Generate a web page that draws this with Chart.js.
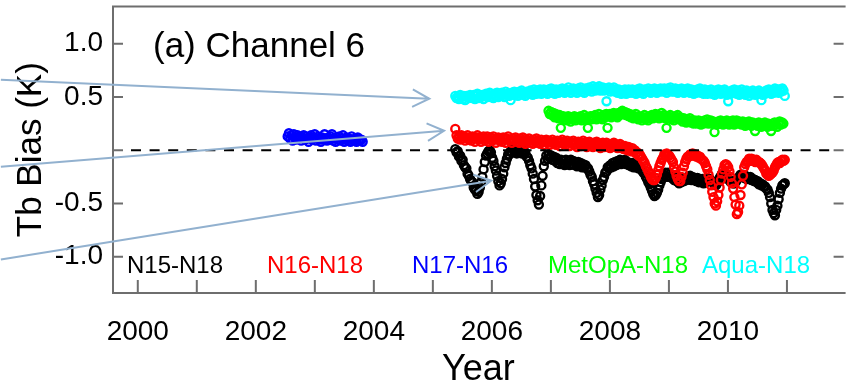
<!DOCTYPE html>
<html>
<head>
<meta charset="utf-8">
<title>Tb Bias – Channel 6</title>
<script src="https://cdn.jsdelivr.net/npm/chart.js@4.4.1/dist/chart.umd.min.js"></script>
<style>
  html, body { margin: 0; padding: 0; background: #fff; overflow: hidden; }
  canvas { display: block; }
</style>
</head>
<body>
<canvas id="chart" width="850" height="385"></canvas>
<script>
// Satellite-pair names, drawn as the in-plot key
const seriesNames = ['N15-N18', 'N16-N18', 'N17-N16', 'MetOpA-N18', 'Aqua-N18'];

// Weekly-ish sampling of each bias series (years); each row below spans a quarter year
const stepYears = 1 / 48;
const startN15 = 2005.38;
const startN16 = 2005.38;
const startAqua = 2005.38;
const startMetOpA = 2006.96;
const startN17 = 2002.54;

// Tb bias (K), N15 - N18
const biasN15 = [
  0.01, -0.02, -0.01, -0.06, -0.05, -0.10, -0.09, -0.14, -0.16, -0.17, -0.22, -0.24,
  -0.27, -0.29, -0.30, -0.35, -0.37, -0.38, -0.41, -0.39, -0.35, -0.30, -0.25, -0.18,
  -0.11, -0.05, -0.03, -0.01, 0.00, -0.02, -0.07, -0.10, -0.15, -0.19, -0.24, -0.29,
  -0.33, -0.31, -0.27, -0.22, -0.16, -0.12, -0.08, -0.04, -0.04, -0.01, -0.02, 0.01,
  -0.02, 0.01, -0.03, 0.00, -0.02, 0.01, -0.03, 0.00, -0.03, -0.02, -0.06, -0.07,
  -0.10, -0.14, -0.17, -0.22, -0.27, -0.34, -0.42, -0.47, -0.51, -0.43, -0.33, -0.24,
  -0.15, -0.10, -0.05, -0.08, -0.04, -0.07, -0.05, -0.09, -0.06, -0.10, -0.07, -0.12,
  -0.09, -0.13, -0.09, -0.13, -0.10, -0.14, -0.09, -0.12, -0.10, -0.14, -0.09, -0.13,
  -0.10, -0.14, -0.11, -0.15, -0.11, -0.14, -0.12, -0.16, -0.13, -0.16, -0.14, -0.17,
  -0.17, -0.20, -0.23, -0.25, -0.29, -0.32, -0.36, -0.40, -0.44, -0.42, -0.37, -0.33,
  -0.28, -0.25, -0.21, -0.20, -0.16, -0.17, -0.14, -0.16, -0.12, -0.15, -0.11, -0.14,
  -0.10, -0.13, -0.09, -0.13, -0.10, -0.12, -0.09, -0.13, -0.11, -0.14, -0.12, -0.15,
  -0.12, -0.16, -0.13, -0.16, -0.14, -0.17, -0.15, -0.18, -0.19, -0.21, -0.22, -0.25,
  -0.27, -0.30, -0.32, -0.35, -0.38, -0.41, -0.43, -0.42, -0.40, -0.37, -0.33, -0.30,
  -0.27, -0.25, -0.23, -0.21, -0.25, -0.21, -0.25, -0.22, -0.26, -0.24, -0.28, -0.26,
  -0.29, -0.27, -0.31, -0.28, -0.30, -0.27, -0.29, -0.26, -0.28, -0.25, -0.27, -0.24,
  -0.28, -0.25, -0.28, -0.26, -0.29, -0.26, -0.30, -0.27, -0.30, -0.27, -0.31, -0.28,
  -0.30, -0.27, -0.29, -0.27, -0.29, -0.30, -0.30, -0.32, -0.33, -0.31, -0.29, -0.26,
  -0.24, -0.22, -0.24, -0.22, -0.24, -0.25, -0.27, -0.28, -0.30, -0.30, -0.31, -0.31,
  -0.30, -0.28, -0.26, -0.25, -0.23, -0.25, -0.23, -0.26, -0.24, -0.27, -0.25, -0.27,
  -0.25, -0.28, -0.27, -0.29, -0.28, -0.30, -0.29, -0.32, -0.31, -0.33, -0.32, -0.34,
  -0.34, -0.36, -0.37, -0.40, -0.44, -0.50, -0.56, -0.59, -0.61, -0.56, -0.52, -0.46,
  -0.40, -0.36, -0.33, -0.32, -0.31
];

// Tb bias (K), N16 - N18
const biasN16 = [
  0.20, 0.14, 0.11, 0.13, 0.10, 0.14, 0.11, 0.13, 0.09, 0.12, 0.14, 0.10,
  0.12, 0.09, 0.13, 0.11, 0.08, 0.12, 0.14, 0.10, 0.12, 0.08, 0.11, 0.13,
  0.09, 0.11, 0.13, 0.08, 0.10, 0.12, 0.09, 0.13, 0.10, 0.07, 0.11, 0.12,
  0.09, 0.11, 0.08, 0.12, 0.10, 0.07, 0.11, 0.13, 0.09, 0.10, 0.07, 0.11,
  0.09, 0.12, 0.08, 0.10, 0.07, 0.11, 0.09, 0.12, 0.08, 0.06, 0.10, 0.08,
  0.11, 0.07, 0.09, 0.06, 0.10, 0.08, 0.11, 0.07, 0.09, 0.06, 0.10, 0.08,
  0.05, 0.09, 0.10, 0.07, 0.09, 0.05, 0.08, 0.10, 0.06, 0.08, 0.05, 0.09,
  0.07, 0.04, 0.08, 0.10, 0.06, 0.08, 0.05, 0.09, 0.07, 0.04, 0.08, 0.06,
  0.09, 0.05, 0.07, 0.03, 0.08, 0.06, 0.04, 0.07, 0.09, 0.05, 0.07, 0.03,
  0.06, 0.08, 0.04, 0.06, 0.03, 0.07, 0.05, 0.08, 0.04, 0.06, 0.02, 0.05,
  0.07, 0.03, 0.05, 0.07, 0.03, 0.05, 0.02, 0.06, 0.04, 0.07, 0.03, 0.05,
  0.02, 0.04, 0.06, 0.02, 0.04, 0.01, 0.04, 0.02, 0.00, 0.03, 0.01, -0.01,
  0.02, -0.01, 0.00, -0.03, -0.02, -0.05, -0.04, -0.06, -0.08, -0.10, -0.12, -0.15,
  -0.17, -0.20, -0.22, -0.25, -0.27, -0.28, -0.28, -0.26, -0.23, -0.19, -0.15, -0.12,
  -0.09, -0.07, -0.04, -0.05, -0.03, -0.05, -0.05, -0.07, -0.09, -0.11, -0.16, -0.20,
  -0.24, -0.27, -0.29, -0.29, -0.25, -0.21, -0.15, -0.11, -0.08, -0.06, -0.06, -0.04,
  -0.05, -0.03, -0.05, -0.04, -0.06, -0.05, -0.07, -0.06, -0.08, -0.09, -0.10, -0.12,
  -0.15, -0.18, -0.23, -0.28, -0.33, -0.39, -0.44, -0.50, -0.52, -0.48, -0.42, -0.35,
  -0.28, -0.22, -0.18, -0.14, -0.13, -0.14, -0.16, -0.20, -0.25, -0.31, -0.36, -0.44,
  -0.51, -0.60, -0.58, -0.52, -0.42, -0.32, -0.24, -0.16, -0.13, -0.11, -0.10, -0.08,
  -0.10, -0.08, -0.10, -0.09, -0.11, -0.09, -0.11, -0.11, -0.12, -0.13, -0.15, -0.17,
  -0.19, -0.22, -0.23, -0.24, -0.23, -0.22, -0.21, -0.19, -0.16, -0.14, -0.12, -0.11,
  -0.12, -0.10, -0.09, -0.10, -0.09
];

// Tb bias (K), N17 - N16
const biasN17 = [
  0.13, 0.16, 0.11, 0.14, 0.09, 0.15, 0.12, 0.10, 0.14, 0.11, 0.13, 0.09,
  0.12, 0.14, 0.10, 0.13, 0.11, 0.08, 0.12, 0.14, 0.10, 0.12, 0.15, 0.09,
  0.11, 0.13, 0.10, 0.08, 0.12, 0.10, 0.15, 0.11, 0.09, 0.12, 0.10, 0.13,
  0.15, 0.09, 0.11, 0.08, 0.12, 0.10, 0.13, 0.09, 0.11, 0.14, 0.08, 0.10,
  0.12, 0.09, 0.11, 0.08, 0.13, 0.10, 0.09, 0.11, 0.08, 0.12, 0.10, 0.09,
  0.10, 0.08
];

// Tb bias (K), MetOp-A - N18
const biasMetOpA = [
  0.37, 0.34, 0.36, 0.33, 0.35, 0.31, 0.34, 0.32, 0.30, 0.33, 0.21, 0.31,
  0.32, 0.29, 0.31, 0.28, 0.32, 0.30, 0.27, 0.31, 0.29, 0.32, 0.28, 0.30,
  0.31, 0.29, 0.32, 0.28, 0.30, 0.33, 0.29, 0.31, 0.21, 0.30, 0.32, 0.29,
  0.32, 0.30, 0.33, 0.29, 0.31, 0.34, 0.30, 0.32, 0.29, 0.33, 0.31, 0.34,
  0.21, 0.32, 0.34, 0.31, 0.33, 0.35, 0.32, 0.34, 0.31, 0.35, 0.33, 0.36,
  0.37, 0.34, 0.36, 0.33, 0.35, 0.32, 0.34, 0.31, 0.33, 0.30, 0.32, 0.34,
  0.31, 0.29, 0.32, 0.30, 0.28, 0.31, 0.33, 0.29, 0.31, 0.28, 0.32, 0.30,
  0.33, 0.30, 0.32, 0.34, 0.31, 0.33, 0.30, 0.32, 0.35, 0.31, 0.33, 0.30,
  0.21, 0.32, 0.30, 0.33, 0.29, 0.31, 0.28, 0.32, 0.30, 0.33, 0.29, 0.31,
  0.29, 0.27, 0.30, 0.28, 0.26, 0.29, 0.27, 0.30, 0.26, 0.28, 0.25, 0.28,
  0.27, 0.25, 0.28, 0.26, 0.24, 0.27, 0.25, 0.28, 0.26, 0.29, 0.25, 0.27,
  0.28, 0.25, 0.27, 0.17, 0.26, 0.24, 0.27, 0.25, 0.28, 0.26, 0.24, 0.27,
  0.25, 0.28, 0.26, 0.24, 0.27, 0.25, 0.28, 0.24, 0.26, 0.28, 0.25, 0.27,
  0.26, 0.24, 0.27, 0.25, 0.23, 0.26, 0.24, 0.27, 0.25, 0.23, 0.26, 0.24,
  0.18, 0.25, 0.23, 0.26, 0.24, 0.22, 0.25, 0.23, 0.26, 0.24, 0.22, 0.25,
  0.23, 0.18, 0.25, 0.23, 0.26, 0.24, 0.22, 0.25, 0.27, 0.24, 0.26, 0.25
];

// Tb bias (K), Aqua - N18
const biasAqua = [
  0.51, 0.49, 0.50, 0.48, 0.52, 0.50, 0.48, 0.51, 0.47, 0.51, 0.50, 0.49,
  0.52, 0.50, 0.49, 0.52, 0.48, 0.51, 0.53, 0.49, 0.51, 0.50, 0.52, 0.48,
  0.51, 0.53, 0.50, 0.52, 0.54, 0.50, 0.52, 0.49, 0.53, 0.51, 0.54, 0.50,
  0.53, 0.51, 0.54, 0.52, 0.50, 0.55, 0.52, 0.53, 0.51, 0.47, 0.54, 0.52,
  0.55, 0.52, 0.54, 0.51, 0.55, 0.53, 0.56, 0.52, 0.54, 0.51, 0.55, 0.53,
  0.53, 0.56, 0.54, 0.52, 0.57, 0.55, 0.53, 0.56, 0.54, 0.57, 0.53, 0.55,
  0.57, 0.54, 0.56, 0.53, 0.57, 0.55, 0.58, 0.54, 0.56, 0.53, 0.57, 0.55,
  0.54, 0.57, 0.55, 0.58, 0.56, 0.54, 0.57, 0.55, 0.59, 0.56, 0.54, 0.57,
  0.58, 0.55, 0.57, 0.54, 0.58, 0.56, 0.59, 0.55, 0.57, 0.54, 0.58, 0.56,
  0.56, 0.59, 0.57, 0.55, 0.60, 0.58, 0.56, 0.59, 0.57, 0.60, 0.56, 0.58,
  0.59, 0.56, 0.58, 0.46, 0.57, 0.59, 0.55, 0.58, 0.56, 0.59, 0.55, 0.57,
  0.54, 0.57, 0.55, 0.53, 0.56, 0.54, 0.57, 0.53, 0.55, 0.57, 0.54, 0.56,
  0.57, 0.54, 0.56, 0.53, 0.57, 0.55, 0.58, 0.54, 0.56, 0.53, 0.57, 0.55,
  0.55, 0.58, 0.56, 0.54, 0.57, 0.55, 0.58, 0.56, 0.54, 0.57, 0.55, 0.58,
  0.57, 0.55, 0.58, 0.56, 0.54, 0.58, 0.56, 0.59, 0.55, 0.57, 0.55, 0.58,
  0.56, 0.54, 0.57, 0.55, 0.58, 0.56, 0.54, 0.57, 0.55, 0.58, 0.56, 0.54,
  0.57, 0.55, 0.53, 0.56, 0.54, 0.57, 0.55, 0.58, 0.54, 0.56, 0.53, 0.57,
  0.55, 0.53, 0.56, 0.54, 0.57, 0.53, 0.55, 0.52, 0.56, 0.54, 0.57, 0.55,
  0.53, 0.56, 0.54, 0.57, 0.55, 0.52, 0.46, 0.55, 0.53, 0.56, 0.54, 0.57,
  0.55, 0.53, 0.56, 0.52, 0.54, 0.57, 0.53, 0.55, 0.52, 0.56, 0.54, 0.51,
  0.55, 0.53, 0.56, 0.54, 0.52, 0.55, 0.53, 0.56, 0.54, 0.47, 0.52, 0.55,
  0.53, 0.56, 0.54, 0.57, 0.55, 0.53, 0.56, 0.54, 0.58, 0.55, 0.57, 0.54,
  0.57, 0.55, 0.58, 0.56, 0.51
];

// Axis ticks
const yearTicks = [2000, 2001, 2002, 2003, 2004, 2005, 2006, 2007, 2008, 2009, 2010, 2011];
const biasTicks = [-1.0, -0.5, 0.0, 0.5, 1.0];

const FONT = "'Liberation Sans', Arial, Helvetica, sans-serif";

function toPoints(start, values) {
  return values.map((v, i) => ({ x: start + i * stepYears, y: v }));
}

function openCircles(label, color, points, order) {
  return {
    label: label,
    data: points,
    order: order,
    showLine: false,
    pointStyle: 'circle',
    pointRadius: 4,
    pointBorderWidth: 2.4,
    pointBorderColor: color,
    pointBackgroundColor: 'rgba(0,0,0,0)',
    borderColor: color,
    backgroundColor: color
  };
}

// Frame with inward ticks, zero reference line, pointer arrows and text
const decorations = {
  id: 'decorations',
  beforeDatasetsDraw(chart) {
    const { ctx, chartArea: a, scales: { x, y } } = chart;
    ctx.save();
    ctx.strokeStyle = '#6e6e6e';
    ctx.lineWidth = 2;
    ctx.lineCap = 'butt';
    ctx.beginPath();
    // top, left and bottom edges
    ctx.moveTo(a.right + 2, a.top);
    ctx.lineTo(a.left, a.top);
    ctx.lineTo(a.left, a.bottom);
    ctx.lineTo(a.right + 2, a.bottom);
    // left and right ticks
    biasTicks.forEach(v => {
      const py = y.getPixelForValue(v);
      ctx.moveTo(a.left, py); ctx.lineTo(a.left + 10, py);
      ctx.moveTo(a.right, py); ctx.lineTo(a.right - 10, py);
    });
    // bottom ticks, one per year
    yearTicks.forEach(v => {
      const px = x.getPixelForValue(v);
      ctx.moveTo(px, a.bottom); ctx.lineTo(px, a.bottom - 13);
    });
    ctx.stroke();
    ctx.restore();
  },
  afterDatasetsDraw(chart, args, opts) {
    const { ctx, chartArea: a, scales: { x, y } } = chart;
    ctx.save();

    // zero-bias reference
    const y0 = y.getPixelForValue(0);
    ctx.strokeStyle = '#000';
    ctx.lineWidth = 2.2;
    ctx.setLineDash([10, 8.6]);
    ctx.beginPath();
    ctx.moveTo(a.left + 18, y0);
    ctx.lineTo(a.right - 12, y0);
    ctx.stroke();
    ctx.setLineDash([]);

    // pointer arrows
    ctx.strokeStyle = '#92b1cf';
    ctx.lineWidth = 2;
    ctx.lineJoin = 'miter';
    opts.arrows.forEach(ar => {
      const x1 = x.getPixelForValue(ar.from[0]), y1 = y.getPixelForValue(ar.from[1]);
      const x2 = x.getPixelForValue(ar.to[0]), y2 = y.getPixelForValue(ar.to[1]);
      const ang = Math.atan2(y2 - y1, x2 - x1);
      const head = 19, spread = 0.48;
      ctx.beginPath();
      ctx.moveTo(x1, y1);
      ctx.lineTo(x2, y2);
      ctx.moveTo(x2 - head * Math.cos(ang - spread), y2 - head * Math.sin(ang - spread));
      ctx.lineTo(x2, y2);
      ctx.lineTo(x2 - head * Math.cos(ang + spread), y2 - head * Math.sin(ang + spread));
      ctx.stroke();
    });

    // panel title
    ctx.fillStyle = '#000';
    ctx.textAlign = 'left';
    ctx.textBaseline = 'alphabetic';
    ctx.font = '35px ' + FONT;
    ctx.fillText(opts.panelTitle, a.left + 40, a.top + 51);

    // series key along the bottom
    ctx.font = '24px ' + FONT;
    const offsets = [14, 154, 299, 435, 589];
    chart.data.datasets.forEach(ds => {
      const k = seriesNames.indexOf(ds.label);
      ctx.fillStyle = ds.borderColor;
      ctx.fillText(ds.label, a.left + offsets[k], a.bottom - 20);
    });
    ctx.restore();
  }
};

new Chart(document.getElementById('chart'), {
  type: 'scatter',
  data: {
    datasets: [
      openCircles(seriesNames[0], '#000000', toPoints(startN15, biasN15), 5),
      openCircles(seriesNames[1], '#ff0000', toPoints(startN16, biasN16), 4),
      openCircles(seriesNames[2], '#0000ff', toPoints(startN17, biasN17), 3),
      openCircles(seriesNames[3], '#00ff00', toPoints(startMetOpA, biasMetOpA), 2),
      openCircles(seriesNames[4], '#00ffff', toPoints(startAqua, biasAqua), 1)
    ]
  },
  options: {
    responsive: false,
    animation: false,
    events: [],
    layout: { padding: { top: 6, right: 0, bottom: 0, left: 0 } },
    plugins: {
      legend: { display: false },
      tooltip: { enabled: false },
      decorations: {
        panelTitle: '(a) Channel 6',
        arrows: [
          { from: [1997.68, 0.661], to: [2004.94, 0.483] },
          { from: [1997.68, -0.155], to: [2005.19, 0.183] },
          { from: [1997.68, -1.026], to: [2005.99, -0.286] }
        ]
      }
    },
    scales: {
      x: {
        type: 'linear',
        min: 1999.58,
        max: 2011.96,
        grid: { display: false, drawTicks: false },
        border: { display: false },
        afterBuildTicks: s => { s.ticks = yearTicks.map(v => ({ value: v })); },
        ticks: {
          autoSkip: false,
          maxRotation: 0,
          padding: 22,
          color: '#000',
          font: { family: FONT, size: 28 },
          callback: v => (Math.round(v) % 2 === 0 ? String(Math.round(v)) : '')
        },
        title: {
          display: true,
          text: 'Year',
          color: '#000',
          font: { family: FONT, size: 36, lineHeight: 1 },
          padding: { top: 0, bottom: -3 }
        },
        afterFit: s => {
          s.height = 92;
          s.paddingLeft = 0;
          s.paddingRight = 0;
        }
      },
      y: {
        type: 'linear',
        min: -1.34,
        max: 1.35,
        grid: { display: false, drawTicks: false },
        border: { display: false },
        afterBuildTicks: s => { s.ticks = biasTicks.map(v => ({ value: v })); },
        ticks: {
          padding: 10,
          color: '#000',
          font: { family: FONT, size: 28 },
          callback: v => (Math.abs(v) < 1e-9 ? '' : v.toFixed(1))
        },
        title: {
          display: true,
          text: 'Tb Bias (K)',
          color: '#000',
          font: { family: FONT, size: 35, lineHeight: 1.2 },
          padding: { top: 10, bottom: 0 }
        },
        afterFit: s => {
          s.width = 113;
          s.paddingTop = 0;
          s.paddingBottom = 0;
        }
      }
    }
  },
  plugins: [decorations]
});
</script>
</body>
</html>
